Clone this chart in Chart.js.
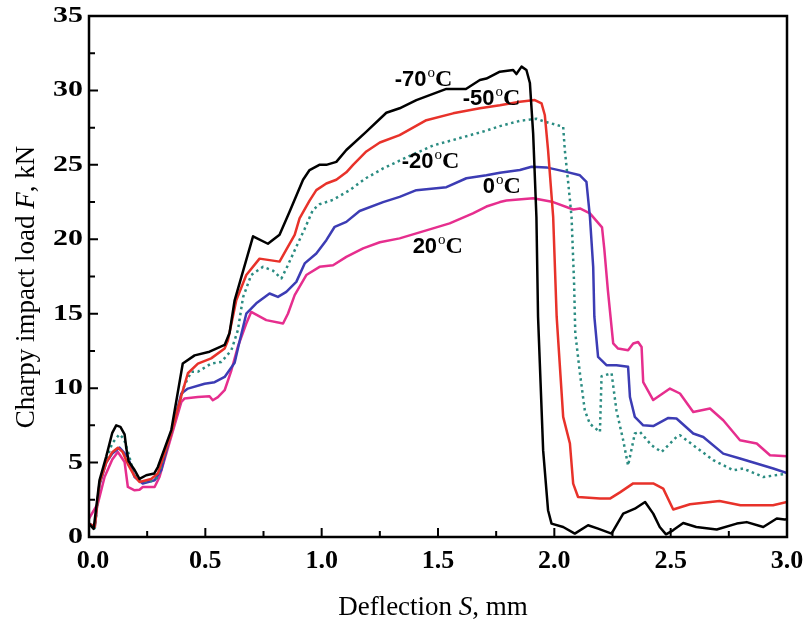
<!DOCTYPE html>
<html>
<head>
<meta charset="utf-8">
<script src="https://cdn.jsdelivr.net/npm/chart.js@4.4.1/dist/chart.umd.min.js"></script>
<style>
  body { margin: 0; background: #fff; }
  #wrap { width: 804px; height: 623px; }
</style>
</head>
<body>
<div id="wrap"><canvas id="impact-graph" width="804" height="623"></canvas></div>
<script>
// Charpy impact load vs deflection, one curve per test temperature

var sM70 = [0, 0.02, 0.045, 0.074, 0.1, 0.117, 0.135, 0.153, 0.16, 0.17, 0.196, 0.217, 0.246, 0.28, 0.296, 0.354, 0.403, 0.454, 0.518, 0.583, 0.604, 0.626, 0.705, 0.769, 0.819, 0.862, 0.92, 0.948, 0.99, 1.02, 1.063, 1.106, 1.19, 1.278, 1.335, 1.407, 1.536, 1.62, 1.68, 1.708, 1.766, 1.823, 1.837, 1.859, 1.88, 1.895, 1.909, 1.923, 1.93, 1.952, 1.973, 1.988, 2.038, 2.088, 2.145, 2.188, 2.246, 2.296, 2.346, 2.39, 2.425, 2.453, 2.48, 2.51, 2.554, 2.61, 2.698, 2.784, 2.827, 2.898, 2.956, 2.99, 3.0];
var fM70 = [0.9, 0.55, 3.8, 5.4, 7.0, 7.5, 7.4, 6.9, 6.0, 5.1, 4.5, 3.9, 4.15, 4.26, 4.7, 7.2, 11.65, 12.2, 12.45, 12.9, 13.7, 15.9, 20.2, 19.7, 20.3, 21.85, 24.0, 24.65, 25.0, 25.0, 25.2, 26.0, 27.2, 28.5, 28.8, 29.35, 30.1, 30.1, 30.7, 30.8, 31.26, 31.37, 31.1, 31.6, 31.37, 30.5, 27.1, 21.5, 14.8, 5.8, 1.8, 0.9, 0.67, 0.23, 0.79, 0.56, 0.23, 1.57, 1.9, 2.35, 1.57, 0.67, 0.18, 0.45, 0.94, 0.67, 0.5, 0.9, 1.0, 0.67, 1.24, 1.17, 1.2];

var sM50 = [0, 0.025, 0.045, 0.074, 0.1, 0.124, 0.145, 0.167, 0.195, 0.217, 0.267, 0.296, 0.35, 0.397, 0.425, 0.468, 0.525, 0.583, 0.597, 0.633, 0.676, 0.733, 0.776, 0.819, 0.848, 0.884, 0.905, 0.948, 0.977, 1.02, 1.063, 1.106, 1.135, 1.192, 1.25, 1.335, 1.45, 1.565, 1.68, 1.766, 1.852, 1.916, 1.945, 1.959, 1.973, 1.995, 2.01, 2.038, 2.067, 2.081, 2.102, 2.196, 2.239, 2.282, 2.339, 2.425, 2.468, 2.511, 2.583, 2.71, 2.8, 2.94, 3.0];
var fM50 = [0.9, 0.7, 3.6, 5.0, 5.7, 6.0, 5.7, 4.9, 4.1, 3.7, 3.9, 4.26, 6.8, 9.5, 11.0, 11.65, 12.0, 12.66, 13.2, 15.9, 17.6, 18.7, 18.6, 18.5, 19.3, 20.3, 21.4, 22.6, 23.3, 23.75, 24.0, 24.5, 25.0, 25.9, 26.5, 27.0, 28.0, 28.46, 28.8, 29.0, 29.24, 29.35, 29.13, 28.35, 26.0, 21.5, 14.8, 8.07, 6.28, 3.59, 2.69, 2.58, 2.58, 3.0, 3.6, 3.6, 3.25, 1.85, 2.2, 2.42, 2.13, 2.13, 2.35];

var sM20 = [0, 0.025, 0.045, 0.074, 0.1, 0.131, 0.15, 0.17, 0.19, 0.217, 0.26, 0.296, 0.35, 0.41, 0.44, 0.468, 0.525, 0.569, 0.612, 0.64, 0.662, 0.697, 0.748, 0.79, 0.827, 0.855, 0.891, 0.927, 0.962, 0.991, 1.049, 1.12, 1.19, 1.264, 1.364, 1.479, 1.594, 1.708, 1.766, 1.852, 1.923, 1.959, 2.038, 2.045, 2.06, 2.074, 2.085, 2.09, 2.11, 2.131, 2.153, 2.196, 2.203, 2.246, 2.267, 2.296, 2.317, 2.346, 2.368, 2.418, 2.461, 2.525, 2.54, 2.626, 2.683, 2.77, 2.812, 2.898, 3.0];
var fM20 = [0.9, 0.6, 3.5, 5.2, 6.3, 6.9, 6.6, 5.6, 4.4, 3.8, 3.7, 4.0, 6.8, 10.2, 11.1, 11.1, 11.65, 11.76, 12.55, 13.9, 16.1, 17.6, 18.15, 17.9, 17.37, 18.26, 19.5, 20.7, 21.96, 22.35, 22.65, 23.3, 24.1, 24.76, 25.5, 26.3, 26.8, 27.3, 27.6, 27.96, 28.1, 27.9, 27.56, 26.0, 23.75, 21.5, 17.0, 13.7, 11.0, 8.5, 7.6, 7.06, 10.8, 11.0, 8.5, 6.5, 4.8, 6.95, 7.06, 6.16, 5.71, 6.72, 6.84, 5.83, 5.16, 4.48, 4.6, 4.03, 4.26];

var s0 = [0, 0.025, 0.045, 0.074, 0.1, 0.131, 0.167, 0.196, 0.231, 0.282, 0.31, 0.397, 0.425, 0.497, 0.54, 0.583, 0.626, 0.645, 0.676, 0.719, 0.776, 0.812, 0.848, 0.891, 0.927, 0.977, 1.02, 1.056, 1.106, 1.163, 1.264, 1.335, 1.407, 1.536, 1.622, 1.708, 1.766, 1.852, 1.902, 1.966, 2.052, 2.11, 2.138, 2.153, 2.167, 2.172, 2.188, 2.224, 2.267, 2.317, 2.325, 2.346, 2.382, 2.425, 2.49, 2.525, 2.597, 2.64, 2.726, 2.798, 2.941, 3.0];
var f0 = [0.9, 0.7, 3.5, 5.0, 5.6, 6.0, 5.38, 4.03, 3.59, 3.81, 4.48, 9.64, 9.97, 10.3, 10.4, 10.75, 11.7, 13.0, 15.0, 15.7, 16.36, 16.13, 16.47, 17.14, 18.38, 19.05, 19.94, 20.84, 21.17, 21.9, 22.5, 22.85, 23.3, 23.5, 24.1, 24.3, 24.47, 24.65, 24.87, 24.83, 24.53, 24.3, 23.86, 21.5, 18.15, 14.8, 12.1, 11.54, 11.54, 11.43, 9.4, 8.07, 7.5, 7.45, 8.0, 7.96, 6.95, 6.72, 5.6, 5.27, 4.6, 4.3];

var s20 = [0, 0.038, 0.067, 0.1, 0.124, 0.153, 0.167, 0.196, 0.217, 0.231, 0.282, 0.303, 0.397, 0.41, 0.468, 0.518, 0.532, 0.554, 0.583, 0.612, 0.64, 0.676, 0.697, 0.762, 0.834, 0.855, 0.884, 0.934, 0.991, 1.049, 1.106, 1.178, 1.25, 1.335, 1.45, 1.55, 1.65, 1.708, 1.766, 1.794, 1.909, 1.995, 2.081, 2.11, 2.153, 2.205, 2.215, 2.23, 2.253, 2.274, 2.317, 2.339, 2.36, 2.375, 2.382, 2.425, 2.497, 2.54, 2.597, 2.669, 2.726, 2.798, 2.87, 2.927, 3.0];
var f20 = [1.24, 2.24, 4.03, 5.2, 5.71, 5.04, 3.36, 3.14, 3.18, 3.36, 3.36, 4.03, 9.07, 9.3, 9.4, 9.46, 9.19, 9.4, 9.86, 11.2, 12.8, 14.34, 15.12, 14.57, 14.34, 15.0, 16.25, 17.6, 18.15, 18.26, 18.82, 19.39, 19.8, 20.06, 20.6, 21.07, 21.74, 22.2, 22.5, 22.6, 22.75, 22.5, 22.0, 22.07, 21.74, 20.8, 19.3, 16.6, 13.0, 12.66, 12.55, 13.0, 13.1, 12.77, 10.4, 9.2, 9.97, 9.64, 8.4, 8.63, 7.84, 6.5, 6.28, 5.49, 5.42];

// curve labels (temperature, left edge and baseline in data units)
var labelTemps = ['-70', '-50', '-20', '0', '20'];
var labelS = [1.314, 1.606, 1.344, 1.692, 1.391];
var labelF = [30.29, 29.0, 24.78, 23.1, 19.07];

var xTicks = [0, 0.5, 1.0, 1.5, 2.0, 2.5, 3.0];
var yTicks = [0, 5, 10, 15, 20, 25, 30, 35];

function pairs(xs, ys) {
  return xs.map(function(x, i) { return { x: x, y: ys[i] }; });
}

function setFont(ctx, style, size, family) {
  ctx.font = style + ' ' + size + 'px ' + family;
}

// draws frame, inward ticks, tick labels, axis titles and curve labels
var axesPlugin = {
  id: 'axesPlugin',
  afterDatasetsDraw: function(chart) {
    var ctx = chart.ctx;
    var a = chart.chartArea;
    var xs = chart.scales.x, ys = chart.scales.y;
    ctx.save();
    ctx.strokeStyle = '#000';
    ctx.lineWidth = 2.5;
    ctx.strokeRect(a.left, a.top, a.right - a.left, a.bottom - a.top);

    // ticks
    ctx.lineWidth = 2;
    ctx.beginPath();
    for (var v = 0; v <= 3.0001; v += 0.25) {
      var px = xs.getPixelForValue(v);
      var len = (Math.abs(v * 2 - Math.round(v * 2)) < 0.01) ? 9 : 6;
      ctx.moveTo(px, a.bottom);
      ctx.lineTo(px, a.bottom - len);
    }
    for (var w = 0; w <= 35.001; w += 2.5) {
      var py = ys.getPixelForValue(w);
      var len2 = (w % 5 === 0) ? 9 : 6;
      ctx.moveTo(a.left, py);
      ctx.lineTo(a.left + len2, py);
    }
    ctx.stroke();

    // tick labels
    ctx.fillStyle = '#000';
    setFont(ctx, 'bold', 23, "'Liberation Serif', serif");
    ctx.textAlign = 'right';
    ctx.textBaseline = 'middle';
    yTicks.forEach(function(t) {
      ctx.save();
      ctx.translate(a.left - 6, ys.getPixelForValue(t));
      ctx.scale(1.3, 1);
      ctx.fillText(String(t), 0, 0);
      ctx.restore();
    });
    setFont(ctx, 'bold', 26, "'Liberation Serif', serif");
    ctx.textAlign = 'center';
    ctx.textBaseline = 'alphabetic';
    xTicks.forEach(function(t, i) {
      var shift = (i === 0) ? 4 : 0;
      ctx.fillText(t.toFixed(1), xs.getPixelForValue(t) + shift, a.bottom + 31);
    });

    // axis titles with italic symbol
    function titleParts(parts) {
      var total = 0;
      parts.forEach(function(p) {
        setFont(ctx, p[1], 27, "'Liberation Serif', serif");
        p.w = ctx.measureText(p[0]).width;
        total += p.w;
      });
      return total;
    }
    function drawParts(parts, startX, baseY) {
      var cx = startX;
      ctx.textAlign = 'left';
      parts.forEach(function(p) {
        setFont(ctx, p[1], 27, "'Liberation Serif', serif");
        ctx.fillText(p[0], cx, baseY);
        cx += p.w;
      });
    }
    var xt = [['Deflection ', 'normal'], ['S', 'italic'], [', mm', 'normal']];
    var xw = titleParts(xt);
    drawParts(xt, 433 - xw / 2, 615);

    var yt = [['Charpy impact load ', 'normal'], ['F', 'italic'], [', kN', 'normal']];
    var yw = titleParts(yt);
    ctx.save();
    ctx.translate(34, 287);
    ctx.rotate(-Math.PI / 2);
    drawParts(yt, -yw / 2, 0);
    ctx.restore();

    // temperature labels
    ctx.textAlign = 'left';
    labelTemps.forEach(function(t, i) {
      var x0 = xs.getPixelForValue(labelS[i]);
      var y0 = ys.getPixelForValue(labelF[i]);
      setFont(ctx, 'bold', 22, "'Liberation Sans', sans-serif");
      ctx.fillText(t, x0, y0);
      x0 += ctx.measureText(t).width + 1;
      setFont(ctx, 'normal', 15, "'Liberation Serif', serif");
      ctx.fillText('o', x0, y0 - 9);
      x0 += ctx.measureText('o').width;
      setFont(ctx, 'bold', 24, "'Liberation Serif', serif");
      ctx.fillText('C', x0, y0);
    });
    ctx.restore();
  }
};

var ctx = document.getElementById('impact-graph').getContext('2d');
var impactGraph = new Chart(ctx, {
  type: 'line',
  data: {
    datasets: [
      { label: '-70', data: pairs(sM70, fM70), borderColor: '#000000', borderWidth: 2.5 },
      { label: '-50', data: pairs(sM50, fM50), borderColor: '#e8322a', borderWidth: 2.5 },
      { label: '-20', data: pairs(sM20, fM20), borderColor: '#2b8c82', borderWidth: 2.5, borderDash: [2.5, 3.5] },
      { label: '0', data: pairs(s0, f0), borderColor: '#3c3cb4', borderWidth: 2.5 },
      { label: '20', data: pairs(s20, f20), borderColor: '#e62e8e', borderWidth: 2.5 }
    ]
  },
  options: {
    responsive: false,
    animation: false,
    events: [],
    layout: { padding: { left: 89, right: 17, top: 16, bottom: 86 } },
    elements: { point: { radius: 0 }, line: { tension: 0, borderJoinStyle: 'round', fill: false } },
    plugins: { legend: { display: false }, tooltip: { enabled: false } },
    scales: {
      x: { type: 'linear', min: 0, max: 3, display: false },
      y: { type: 'linear', min: 0, max: 35, display: false }
    }
  },
  plugins: [axesPlugin]
});
</script>
</body>
</html>
